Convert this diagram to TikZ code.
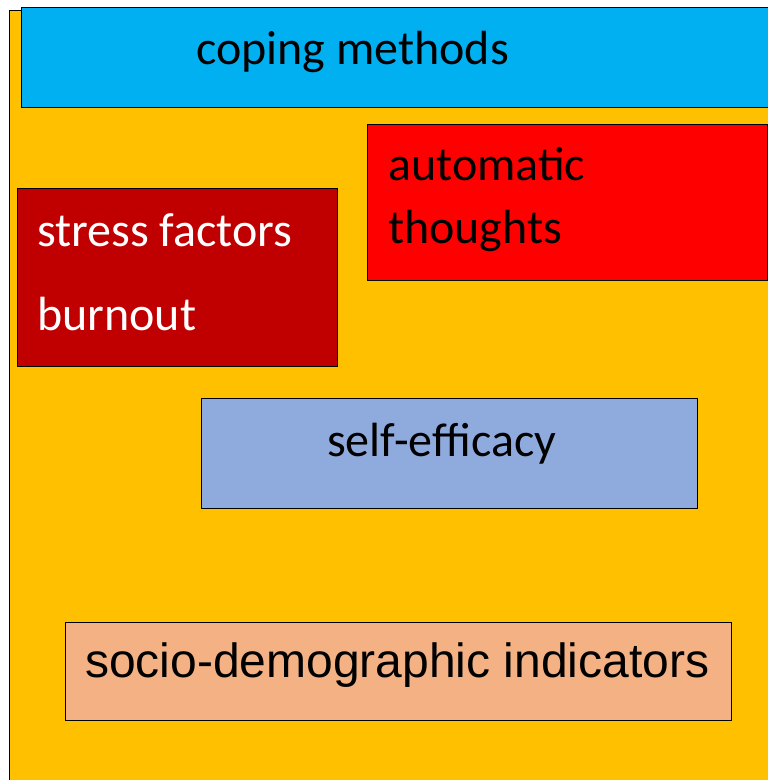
\documentclass[tikz,border=0pt]{standalone}
\usepackage{fontspec}
\setmainfont{Carlito}
\newfontfamily\arialfont{Liberation Sans}
\definecolor{bgorange}{HTML}{FFC000}
\definecolor{copeblue}{HTML}{00B0F0}
\definecolor{autored}{HTML}{FF0000}
\definecolor{stressred}{HTML}{C00000}
\definecolor{effblue}{HTML}{8FAADC}
\definecolor{socpeach}{HTML}{F4B183}
\tikzset{
  panel/.style={draw=black, line width=1pt, inner sep=0pt, outer sep=0pt},
  lbl/.style={anchor=base west, inner sep=0pt, font=\fontsize{48}{56}\selectfont},
}
\begin{document}
\begin{tikzpicture}[x=1pt, y=-1pt]
\useasboundingbox (0,0) rectangle (768,780);
\clip (0,0) rectangle (768,780);
% background panel
\fill[bgorange] (9.5,10) rectangle (800,800);
\draw[line width=1pt] (9.5,800) -- (9.5,10) -- (800,10);
% boxes
\node[panel, fill=copeblue, minimum width=790pt, minimum height=100pt, anchor=north west] (cope) at (21,7.5) {};
\node[panel, fill=autored, minimum width=400pt, minimum height=156pt, anchor=north west] (auto) at (367,124) {};
\node[panel, fill=stressred, minimum width=320pt, minimum height=178pt, anchor=north west] (stress) at (17.5,188) {};
\node[panel, fill=effblue, minimum width=496pt, minimum height=110pt, anchor=north west] (eff) at (201,398) {};
\node[panel, fill=socpeach, minimum width=666pt, minimum height=98pt, anchor=north west] (soc) at (65,622) {};
% labels
\node[lbl] (copet) at (196,64) {coping methods};
\node[lbl] (autot1) at (388,180) {automatic};
\node[lbl] (autot2) at (388,243) {thoughts};
\node[lbl, text=white] (stresst1) at (37,246) {stress factors};
\node[lbl, text=white] (stresst2) at (37,330) {burnout};
\node[lbl] (efft) at (327,456) {self-efficacy};
\node[lbl, font=\arialfont\fontsize{48}{56}\selectfont] (soct) at (85,677) {socio-demographic indicators};
\end{tikzpicture}
\end{document}
